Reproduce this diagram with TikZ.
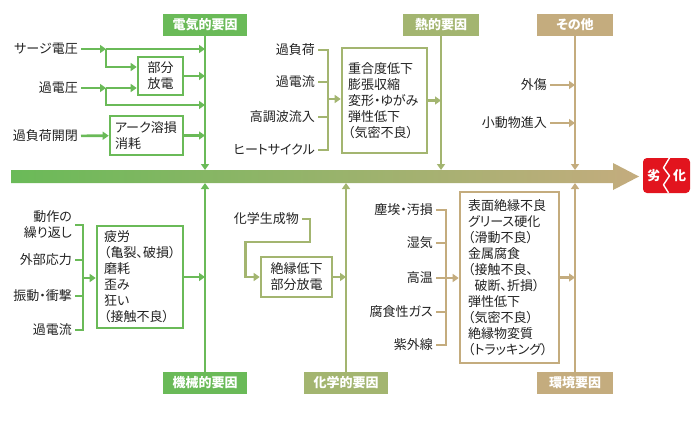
\documentclass[tikz,border=0pt]{standalone}
\usepackage{fontspec}
\setmainfont{Noto Sans CJK JP}[RawFeature=+palt]
\usetikzlibrary{arrows.meta}
\definecolor{cGreen}{HTML}{6ABA58}
\definecolor{cOlive}{HTML}{A3B570}
\definecolor{cTan}{HTML}{C4AC7E}
\definecolor{cRed}{HTML}{E2141E}
\definecolor{cText}{HTML}{222222}
\newcommand\lblfont{\fontsize{13}{16}\selectfont}
\newcommand\hdrfont{\fontsize{13}{15}\selectfont\bfseries}

\begin{document}
\begin{tikzpicture}[x=1pt, y=-1pt,
  hdr/.style={fill=#1, text=white, font=\hdrfont, minimum height=22pt, inner sep=0pt},
  lbl/.style={anchor=east, inner sep=3pt, text=cText, font=\lblfont, align=right},
  box/.style={draw=#1, line width=2.6pt, fill=white, text=cText, font=\lblfont, inner sep=0pt},
  lnk/.style={draw=#1, line width=2.6pt},
  arr/.style={lnk=#1, -{Triangle[length=6pt,width=8pt]}},
]
  \useasboundingbox (0,0) rectangle (700,429);

  % main spine
  \shade[left color=cGreen, middle color=cOlive, right color=cTan]
    (11,170) -- (613,170) -- (613,163) -- (639,176.5) -- (613,190) -- (613,183) -- (11,183) -- cycle;
  \coordinate (barT) at (0,170);
  \coordinate (barB) at (0,183);
  \node[fill=cRed, rounded corners=4pt, minimum width=47pt, minimum height=35pt,
        text=white, font=\hdrfont] (deg) at (666.5,175.5) {劣\hspace{13pt}化};
  \draw[white, line width=1.4pt, line join=round]
    (deg.north) ++(3,0) -- ++(-6,10) -- ++(6,8) -- ++(-6,9) -- ++(5,8);

  % factor headers
  \node[hdr=cGreen, minimum width=84pt] (elec) at (205,25) {電気的要因};
  \node[hdr=cOlive, minimum width=76pt] (heat) at (441,25) {熱的要因};
  \node[hdr=cTan, minimum width=76pt] (misc) at (575,25) {その他};
  \node[hdr=cGreen, minimum width=84pt] (mech) at (205,383) {機械的要因};
  \node[hdr=cOlive, minimum width=84pt] (chem) at (346,383) {化学的要因};
  \node[hdr=cTan, minimum width=76pt] (envr) at (575,383) {環境要因};
  \draw[arr=cGreen] (elec) -- (elec |- barT);
  \draw[arr=cOlive] (heat) -- (heat |- barT);
  \draw[arr=cTan] (misc) -- (misc |- barT);
  \draw[arr=cGreen] (mech) -- (mech |- barB);
  \draw[arr=cOlive] (chem) -- (chem |- barB);
  \draw[arr=cTan] (envr) -- (envr |- barB);

  % electrical
  \node[lbl] (surge) at (81,49) {サージ電圧};
  \node[lbl] (ovolt) at (81,88) {過電圧};
  \node[lbl] (swit) at (81,136) {過負荷開閉};
  \node[box=cGreen, minimum width=45pt, minimum height=38pt, align=center] (pdis) at (160.5,76) {部分\\放電};
  \node[box=cGreen, text width=63pt, inner xsep=5pt, minimum height=39pt, align=left] (arc) at (146.5,135.5) {アーク溶損\\消耗};
  \coordinate (jA) at (106,49);
  \coordinate (jB) at (106,88);
  \coordinate (jC) at (106,105);
  \draw[arr=cGreen] (surge) -- (jA);
  \draw[arr=cGreen] (jA) -- (jA -| elec);
  \draw[arr=cGreen] (jA) |- ([yshift=9pt]pdis.west);
  \draw[arr=cGreen] (ovolt) -- (jB);
  \draw[arr=cGreen] (jB) -- (jB -| pdis.west);
  \draw[arr=cGreen] (jB) |- (jC -| elec);
  \draw[arr=cGreen] (pdis) -- (pdis -| elec);
  \draw[arr=cGreen] (swit) -- (arc);
  \draw[arr=cGreen] (arc) -- (arc -| elec);

  % thermal
  \node[lbl] (ovld) at (318,50) {過負荷};
  \node[lbl] (ocur) at (318,82) {過電流};
  \node[lbl] (harm) at (318,117) {高調波流入};
  \node[lbl] (cyc) at (318,150) {ヒートサイクル};
  \coordinate (tb) at (328,99);
  \node[box=cOlive, text width=73pt, inner xsep=6pt, minimum height=105pt, align=left] (tbox) at (384.5,100.5)
    {重合度低下\\膨張収縮\\変形・ゆがみ\\弾性低下\\（気密不良）};
  \draw[lnk=cOlive] (ovld) -| (tb);
  \draw[lnk=cOlive] (cyc) -| (tb);
  \draw[lnk=cOlive] (ocur) -- (ocur -| tb);
  \draw[lnk=cOlive] (harm) -- (harm -| tb);
  \draw[arr=cOlive] (tb) -- (tb -| tbox.west);
  \draw[arr=cOlive] (tbox) -- (tbox -| heat);

  % others
  \node[lbl] (wound) at (550,85) {外傷};
  \node[lbl] (anim) at (550,123) {小動物進入};
  \draw[arr=cTan] (wound) -- (wound -| misc);
  \draw[arr=cTan] (anim) -- (anim -| misc);

  % mechanical
  \node[lbl] (rep) at (75,225) {動作の\\繰り返し};
  \node[lbl] (ext) at (75,260) {外部応力};
  \node[lbl] (vib) at (75,296) {振動・衝撃};
  \node[lbl] (mcur) at (75,330) {過電流};
  \coordinate (mb) at (83,278);
  \node[box=cGreen, text width=72pt, inner xsep=7pt, minimum height=102pt, align=left] (mbox) at (140,277)
    {疲労\\（亀裂、破損）\\磨耗\\歪み\\狂い\\（接触不良）};
  \draw[lnk=cGreen] (rep) -| (mb);
  \draw[lnk=cGreen] (mcur) -| (mb);
  \draw[lnk=cGreen] (ext) -- (ext -| mb);
  \draw[lnk=cGreen] (vib) -- (vib -| mb);
  \draw[arr=cGreen] (mb) -- (mb -| mbox.west);
  \draw[arr=cGreen] (mbox) -- (mbox -| mech);

  % chemical
  \node[lbl] (cprod) at (302,219) {化学生成物};
  \node[box=cOlive, minimum width=71pt, minimum height=40pt, align=center] (cbox) at (296.5,277) {絶縁低下\\部分放電};
  \draw[arr=cOlive] (cprod.east) -| ++(8,23) -| ([xshift=-14pt]cbox.west) -- (cbox.west);
  \draw[arr=cOlive] (cbox) -- (cbox -| chem);

  % environment
  \node[lbl] (dust) at (436,210) {塵埃・汚損};
  \node[lbl] (humid) at (436,243) {湿気};
  \node[lbl] (htemp) at (436,278) {高温};
  \node[lbl] (cgas) at (436,312) {腐食性ガス};
  \node[lbl] (uv) at (436,345) {紫外線};
  \coordinate (eb) at (446,278);
  \node[box=cTan, text width=83pt, inner xsep=8pt, minimum height=171pt, align=left] (ebox) at (509.5,277.5)
    {表面絶縁不良\\グリース硬化\\（滑動不良）\\金属腐食\\（接触不良、\\\hspace*{0.5em}破断、折損）\\弾性低下\\（気密不良）\\絶縁物変質\\（トラッキング）};
  \draw[lnk=cTan] (dust) -| (eb);
  \draw[lnk=cTan] (uv) -| (eb);
  \draw[lnk=cTan] (humid) -- (humid -| eb);
  \draw[lnk=cTan] (htemp) -- (eb);
  \draw[lnk=cTan] (cgas) -- (cgas -| eb);
  \draw[arr=cTan] (eb) -- (eb -| ebox.west);
  \draw[arr=cTan] (ebox) -- (ebox -| envr);
\end{tikzpicture}
\end{document}
